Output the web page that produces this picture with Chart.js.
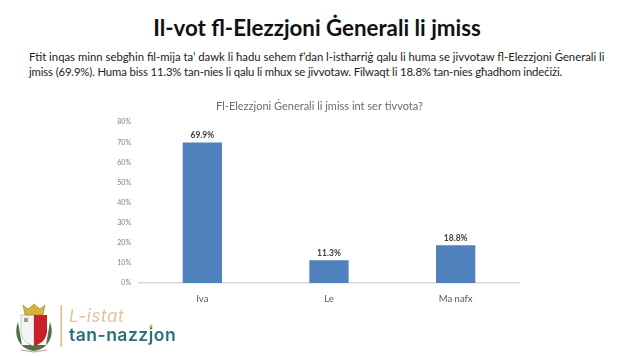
<!DOCTYPE html>
<html>
<head>
<meta charset="utf-8">
<script src="https://cdn.jsdelivr.net/npm/chart.js@4"></script>
<style>
    html, body { margin: 0; padding: 0; background: #fff; overflow: hidden; }
    body { width: 633px; height: 356px; position: relative; font-family: Lato, sans-serif; }
    h1 { position: absolute; left: 0; width: 634px; top: 13px; margin: 0; text-align: center;
         font-size: 22.3px; line-height: 30px; font-weight: 700; color: #111; }
    p { position: absolute; left: 29px; top: 50px; margin: 0;
        font-size: 11.33px; line-height: 14.7px; color: #222; white-space: nowrap; }
    p span { letter-spacing: -0.14px; }
    canvas { position: absolute; left: 0; top: 0; }
    svg { position: absolute; left: 0; top: 295px; }
</style>
</head>
<body>
<h1>Il-vot fl-Elezzjoni Ġenerali li jmiss</h1>
<p>Ftit inqas minn sebgħin fil-mija ta’ dawk li ħadu sehem f’dan l-istħarriġ qalu li huma se jivvotaw fl-Elezzjoni Ġenerali li<br><span>jmiss (69.9%). Huma biss 11.3% tan-nies li qalu li mhux se jivvotaw. Filwaqt li 18.8% tan-nies għadhom indeċiżi.</span></p>
<canvas id="chart" width="633" height="356"></canvas>
<svg width="200" height="61" viewBox="0 295 200 61">
    <path d="M18 322 C13 335 19 349 34 351 C49 349 55 335 50 322 L46 345 L22 345 Z" fill="#4f6f45"/>
    <path d="M21 315 H34 V346 C27 344 22 340 21 332 Z" fill="#f4f4f4" stroke="#999" stroke-width="0.5"/>
    <path d="M34 315 H47 V332 C46 340 41 344 34 346 Z" fill="#c9202c"/>
    <path d="M23 305 L28 309 L34 304 L40 309 L45 305 L43 315 H25 Z" fill="#d9b23c" stroke="#8a7326" stroke-width="0.5"/>
    <path d="M24 318 h4 v4 h-4 z" fill="#9a9a9a"/>
    <path d="M21 350 L34 352 L47 350" fill="none" stroke="#c99" stroke-width="1.2"/>
    <rect x="60.5" y="305" width="1.6" height="42" fill="#e2c08d"/>
    <text x="69" y="322" font-family="Inter, sans-serif" font-style="italic" font-size="17" letter-spacing="0.6" fill="#e0c49c">L-istat</text>
    <text x="69" y="341" font-family="Inter, sans-serif" font-weight="600" font-size="17.6" letter-spacing="0.45" fill="#2b6f7c">tan-nazzjon</text>
    <circle cx="151" cy="326" r="1.6" fill="#e8a94f"/>
</svg>
<script>
const categories = ["Iva", "Le", "Ma nafx"];
const votePercent = [69.9, 11.3, 18.8];
const chartTitle = "Fl-Elezzjoni Ġenerali li jmiss int ser tivvota?";

// no datalabels plugin available, write the values above the bars by hand
const barValueLabels = {
    id: "barValueLabels",
    afterDatasetsDraw(chart) {
        const { ctx } = chart;
        ctx.save();
        ctx.font = "bold 8.5px Lato, sans-serif";
        ctx.fillStyle = "#404040";
        ctx.textAlign = "center";
        ctx.textBaseline = "bottom";
        chart.getDatasetMeta(0).data.forEach((bar, i) => {
            ctx.fillText(votePercent[i].toFixed(1) + "%", bar.x, bar.y - 3);
        });
        ctx.restore();
    }
};

new Chart(document.getElementById("chart"), {
    type: "bar",
    data: {
        labels: categories,
        datasets: [{
            data: votePercent,
            backgroundColor: "#4f81bd",
            barPercentage: 0.31,
            categoryPercentage: 1
        }]
    },
    options: {
        responsive: false,
        animation: false,
        layout: {
            padding: { left: 100, right: 94, top: 100, bottom: 47 }
        },
        scales: {
            y: {
                min: 0,
                max: 80,
                afterFit: (axis) => { axis.width = 39; },
                border: { display: false },
                grid: { display: false, drawTicks: false },
                ticks: {
                    stepSize: 10,
                    padding: 8,
                    color: "#7f7f7f",
                    font: { family: "Lato, sans-serif", size: 7 },
                    callback: (value) => value + "%"
                }
            },
            // empty axis on the right, only there so the title stays centred at 319
            yRight: {
                position: "right",
                afterFit: (axis) => { axis.width = 20; },
                border: { display: false },
                grid: { display: false, drawTicks: false },
                ticks: { display: false }
            },
            x: {
                afterFit: (axis) => { axis.height = 26; },
                border: { color: "#d9d9d9", width: 1.5 },
                grid: { display: false },
                ticks: {
                    padding: 2,
                    color: "#595959",
                    font: { family: "Lato, sans-serif", size: 9.5 }
                }
            }
        },
        plugins: {
            legend: { display: false },
            tooltip: { enabled: false },
            title: {
                display: true,
                text: chartTitle,
                color: "#6b6b6b",
                padding: { top: 0, bottom: 9 },
                font: { family: "Lato, sans-serif", size: 11, weight: "normal" }
            }
        }
    },
    plugins: [barValueLabels]
});
</script>
</body>
</html>
